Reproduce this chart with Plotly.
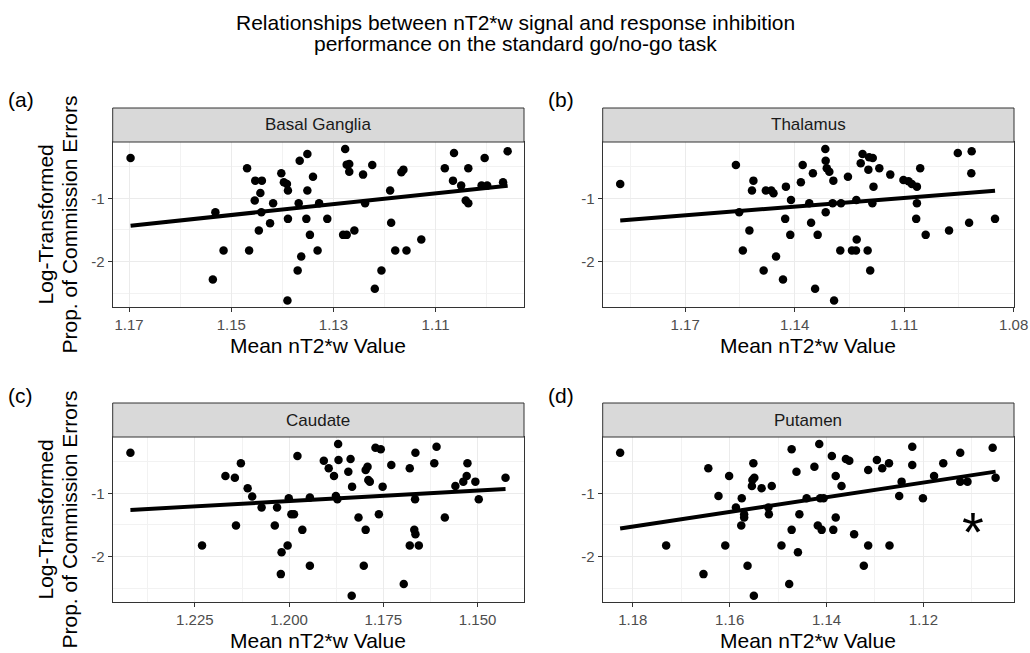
import numpy as np
import plotly.graph_objects as go

# ---------------- data ----------------
bg_x = [1.1697,1.1531,1.1536,1.1515,1.1469,1.1465,1.1453,1.1440,1.1443,1.1454,1.1441,1.1446,1.1424,1.1418,
        1.1402,1.1397,1.1391,1.1389,1.1389,1.1390,1.1370,1.1366,1.1351,1.1340,1.1351,1.1368,1.1353,1.1346,
        1.1363,1.1331,1.1328,1.1312,1.1277,1.1274,1.1269,1.1269,1.1281,1.1274,1.1259,1.1242,1.1224,1.1238,
        1.1206,1.1219,1.1189,1.1187,1.1179,1.1167,1.1163,1.1157,1.1128,1.1082,1.1064,1.1066,1.1050,1.1036,
        1.1041,1.1036,1.1004,1.1010,1.0999,1.0959,1.0968]
bg_y = [-0.363,-1.221,-2.284,-1.826,-0.526,-1.826,-0.721,-0.721,-0.916,-1.037,-1.221,-1.511,-1.395,-1.079,
        -0.605,-0.747,-0.774,-0.879,-1.326,-2.616,-2.142,-0.405,-0.300,-0.658,-0.879,-1.079,-1.326,-1.579,
        -1.921,-1.826,-1.079,-1.326,-0.221,-0.468,-0.458,-0.579,-1.579,-1.579,-1.511,-0.626,-0.474,-1.079,
        -2.142,-2.432,-0.879,-1.389,-1.826,-0.589,-0.547,-1.826,-1.653,-0.526,-0.284,-0.721,-0.800,-0.526,
        -1.037,-1.079,-0.363,-0.800,-0.800,-0.258,-0.747]

th_x = [1.1878,1.1561,1.1552,1.1542,1.1524,1.1513,1.1517,1.1485,1.1479,1.1464,1.1458,1.1451,1.1432,1.1426,
        1.1424,1.1410,1.1412,1.1383,1.1378,1.1360,1.1355,1.1350,1.1344,1.1337,1.1316,1.1315,1.1312,1.1305,
        1.1315,1.1296,1.1294,1.1292,1.1275,1.1273,1.1254,1.1243,1.1232,1.1230,1.1231,1.1219,1.1214,1.1196,
        1.1186,1.1198,1.1184,1.1187,1.1200,1.1193,1.1168,1.1138,1.1102,1.1088,1.1079,1.1065,1.1056,1.1065,
        1.1067,1.1041,1.0977,1.0953,1.0915,1.0916,1.0922,1.0851]
th_y = [-0.774,-0.474,-1.221,-1.826,-1.511,-0.721,-0.879,-2.142,-0.879,-0.879,-0.921,-1.921,-2.284,-1.326,
        -0.816,-1.026,-1.579,-0.747,-0.474,-1.079,-1.389,-0.605,-2.432,-1.579,-0.221,-0.405,-0.526,-0.579,
        -1.221,-1.079,-0.721,-2.616,-1.826,-1.079,-0.658,-1.826,-1.826,-1.653,-1.026,-0.447,-0.300,-0.353,
        -0.363,-0.547,-0.816,-1.079,-1.826,-2.142,-0.526,-0.626,-0.711,-0.732,-0.774,-0.816,-0.526,-1.079,
        -1.326,-1.579,-1.511,-0.284,-0.258,-0.605,-1.389,-1.326]

cd_x = [1.2421,1.2231,1.2169,1.2144,1.2128,1.2110,1.2098,1.2141,1.2073,1.2032,1.2038,1.2020,1.2004,1.2022,
        1.2001,1.1994,1.1987,1.1978,1.1965,1.1945,1.1945,1.1908,1.1895,1.1881,1.1876,1.1872,1.1870,1.1869,
        1.1843,1.1837,1.1833,1.1834,1.1816,1.1797,1.1802,1.1797,1.1792,1.1790,1.1786,1.1771,1.1757,1.1762,
        1.1752,1.1729,1.1696,1.1680,1.1680,1.1666,1.1665,1.1668,1.1665,1.1656,1.1615,1.1609,1.1587,1.1559,
        1.1538,1.1529,1.1527,1.1506,1.1497,1.1426]
cd_y = [-0.358,-1.826,-0.726,-0.753,-0.526,-0.921,-1.053,-1.511,-1.226,-1.226,-1.511,-1.932,-1.826,-2.279,
        -1.079,-1.332,-1.332,-0.411,-1.579,-1.068,-2.147,-0.484,-0.605,-0.726,-1.042,-1.095,-0.221,-0.474,
        -0.658,-0.458,-0.895,-2.621,-1.384,-1.579,-2.147,-0.632,-0.579,-0.789,-0.816,-0.279,-0.305,-1.332,
        -0.895,-0.553,-2.437,-0.605,-1.826,-1.095,-0.358,-1.579,-1.647,-1.826,-0.526,-0.263,-1.384,-0.884,
        -0.816,-0.726,-0.526,-0.816,-1.095,-0.753]

pt_x = [1.1826,1.1731,1.1654,1.1644,1.1623,1.1609,1.1601,1.1587,1.1575,1.1576,1.1570,1.1570,1.1563,1.1551,
        1.1553,1.1549,1.1554,1.1550,1.1534,1.1520,1.1519,1.1513,1.1493,1.1477,1.1472,1.1472,1.1462,1.1459,
        1.1456,1.1441,1.1425,1.1418,1.1415,1.1413,1.1410,1.1406,1.1389,1.1386,1.1381,1.1381,1.1369,1.1360,
        1.1353,1.1343,1.1323,1.1314,1.1314,1.1296,1.1285,1.1271,1.1270,1.1250,1.1245,1.1223,1.1223,1.1201,
        1.1178,1.1159,1.1124,1.1124,1.1109,1.1057,1.1051]
pt_y = [-0.358,-1.826,-2.279,-0.605,-1.042,-1.826,-0.726,-1.226,-1.079,-1.511,-1.332,-1.384,-2.147,-0.526,
        -0.789,-0.753,-0.884,-2.621,-0.921,-1.226,-1.332,-0.884,-1.826,-2.437,-1.579,-0.305,-0.658,-1.932,
        -1.332,-1.079,-0.579,-1.511,-0.221,-1.079,-1.579,-1.079,-0.411,-1.579,-0.726,-1.384,-0.884,-0.458,
        -0.484,-1.647,-2.147,-0.632,-1.826,-0.474,-0.605,-0.526,-1.826,-1.042,-0.816,-0.263,-0.553,-1.079,
        -0.726,-0.526,-0.358,-0.816,-0.816,-0.279,-0.753]

regions = ["Basal Ganglia", "Thalamus", "Caudate", "Putamen"]
panel_tags = ["(a)", "(b)", "(c)", "(d)"]
x_major = [[1.17, 1.15, 1.13, 1.11], [1.17, 1.14, 1.11, 1.08],
           [1.225, 1.200, 1.175, 1.150], [1.18, 1.16, 1.14, 1.12]]
x_labels = [["1.17", "1.15", "1.13", "1.11"], ["1.17", "1.14", "1.11", "1.08"],
            ["1.225", "1.200", "1.175", "1.150"], ["1.18", "1.16", "1.14", "1.12"]]
x_minor = [[1.16, 1.14, 1.12, 1.10], [1.155, 1.125, 1.095, 1.185],
           [1.2375, 1.2125, 1.1875, 1.1625, 1.1375], [1.17, 1.15, 1.13, 1.11]]
x_ranges = [[1.1732, 1.0927], [1.1926, 1.0799], [1.2468, 1.1377], [1.1862, 1.1013]]
y_major = [-1, -2]
y_labels = ["-1", "-2"]
y_minor = [-0.5, -1.5, -2.5]
y_range = [-2.72, -0.11]
x_title = "Mean nT2*w Value"
y_title_lines = ["Log-Transformed", "Prop. of Commission Errors"]
title_lines = ["Relationships between nT2*w signal and response inhibition",
               "performance on the standard go/no-go task"]
sig_marker = "*"

# ---------------- layout geometry ----------------
W, H = 1030, 653
col_px = [(112.7, 524.0), (602.7, 1014.0)]
row_px = [(142.0, 307.0), (437.0, 602.0)]  # plot area top/bottom (px from top)
strip_h = 34.0
FONT = "Liberation Sans, Arial, Helvetica"

def fx(px):
    return px / W

def fy(py):
    return 1 - py / H

fig = go.Figure()
series = [(bg_x, bg_y), (th_x, th_y), (cd_x, cd_y), (pt_x, pt_y)]
layout_axes = {}
shapes = []
annotations = []
GRID_MAJ = "#ebebeb"
GRID_MIN = "#f2f2f2"
DARK = "#333333"

for i, (xs, ys) in enumerate(series):
    r, c = divmod(i, 2)
    xa = "x" if i == 0 else f"x{i+1}"
    ya = "y" if i == 0 else f"y{i+1}"
    fig.add_trace(go.Scatter(x=xs, y=ys, mode="markers", xaxis=xa, yaxis=ya,
                             marker=dict(color="black", size=8.5), showlegend=False, hoverinfo="skip"))
    xarr = np.array(xs)
    yarr = np.array(ys)
    slope, inter = np.polyfit(xarr, yarr, 1)
    xl = np.array([xarr.min(), xarr.max()])
    fig.add_trace(go.Scatter(x=xl, y=slope * xl + inter, mode="lines", xaxis=xa, yaxis=ya,
                             line=dict(color="black", width=4), showlegend=False, hoverinfo="skip"))
    x0, x1 = col_px[c]
    top, bot = row_px[r]
    xkey = "xaxis" if i == 0 else f"xaxis{i+1}"
    ykey = "yaxis" if i == 0 else f"yaxis{i+1}"
    layout_axes[xkey] = dict(
        domain=[fx(x0), fx(x1)], anchor=ya, range=x_ranges[i], automargin=False,
        tickmode="array", tickvals=x_major[i], ticktext=x_labels[i],
        showgrid=True, gridcolor=GRID_MAJ, gridwidth=1.2,
        minor=dict(tickvals=x_minor[i], showgrid=True, gridcolor=GRID_MIN, gridwidth=0.8, ticks=""),
        ticks="outside", ticklen=4, tickcolor=DARK, tickwidth=1,
        tickfont=dict(family=FONT, size=15, color="#4d4d4d"),
        showline=True, linecolor=DARK, linewidth=1, mirror=True, zeroline=False,
    )
    layout_axes[ykey] = dict(
        domain=[fy(bot), fy(top)], anchor=xa, range=y_range, automargin=False,
        tickmode="array", tickvals=y_major, ticktext=y_labels,
        showgrid=True, gridcolor=GRID_MAJ, gridwidth=1.2,
        minor=dict(tickvals=y_minor, showgrid=True, gridcolor=GRID_MIN, gridwidth=0.8, ticks=""),
        ticks="outside", ticklen=4, tickcolor=DARK, tickwidth=1,
        tickfont=dict(family=FONT, size=15, color="#4d4d4d"),
        showline=True, linecolor=DARK, linewidth=1, mirror=True, zeroline=False,
    )
    # strip
    shapes.append(dict(type="rect", xref="paper", yref="paper",
                       x0=fx(x0), x1=fx(x1), y0=fy(top), y1=fy(top - strip_h),
                       fillcolor="#d9d9d9", line=dict(color=DARK, width=1), layer="above"))
    annotations.append(dict(text=regions[i], xref="paper", yref="paper",
                            x=(fx(x0) + fx(x1)) / 2, y=fy(top - strip_h / 2),
                            showarrow=False, xanchor="center", yanchor="middle",
                            font=dict(family=FONT, size=17, color="#1a1a1a")))
    # panel tag
    tag_x = 6 if c == 0 else 546
    tag_y = 100 if r == 0 else 395
    annotations.append(dict(text=panel_tags[i], xref="paper", yref="paper",
                            x=fx(tag_x), y=fy(tag_y), showarrow=False,
                            xanchor="left", yanchor="middle",
                            font=dict(family=FONT, size=21, color="black")))
    # x axis title
    annotations.append(dict(text=x_title, xref="paper", yref="paper",
                            x=(fx(x0) + fx(x1)) / 2, y=fy(bot + 38), showarrow=False,
                            xanchor="center", yanchor="middle",
                            font=dict(family=FONT, size=21, color="black")))
    # y axis title (left column only, one per row)
    if c == 0:
        ymid = (top + bot) / 2
        for k, line in enumerate(y_title_lines):
            annotations.append(dict(text=line, xref="paper", yref="paper",
                                    x=fx(45 + 24 * k), y=fy(ymid), showarrow=False, textangle=-90,
                                    xanchor="center", yanchor="middle",
                                    font=dict(family=FONT, size=21, color="black")))

# title, one annotation per line
for k, line in enumerate(title_lines):
    annotations.append(dict(text=line, xref="paper", yref="paper", x=0.5, y=fy(22.5 + 21.4 * k),
                            showarrow=False, xanchor="center", yanchor="middle",
                            font=dict(family=FONT, size=21, color="black")))

# significance asterisk on Putamen panel
annotations.append(dict(text=sig_marker, xref="x4", yref="y4", x=1.1097, y=-1.61,
                        showarrow=False, xanchor="center", yanchor="middle",
                        font=dict(family=FONT, size=56, color="black")))

fig.update_layout(
    width=W, height=H,
    margin=dict(l=0, r=0, t=0, b=0, autoexpand=False),
    paper_bgcolor="white", plot_bgcolor="white",
    shapes=shapes, annotations=annotations,
    **layout_axes,
)

fig.write_html("out.html", config={"displayModeBar": False},
               post_script="document.body.style.margin='0px';")
